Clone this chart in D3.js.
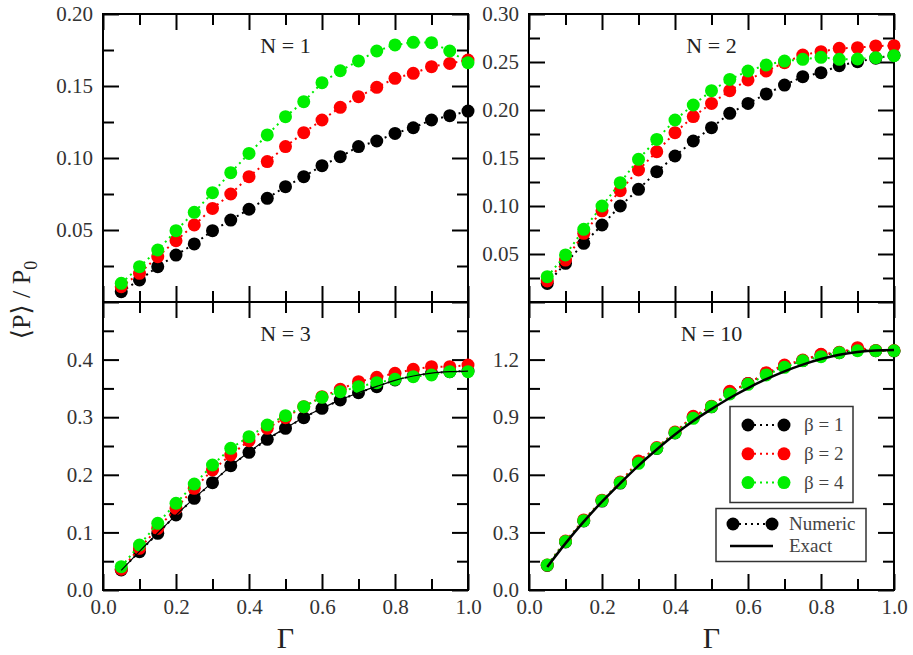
<!DOCTYPE html>
<html lang="en">
<head>
<meta charset="UTF-8">
<title>Mean power vs Gamma</title>
<script src="https://d3js.org/d3.v7.min.js"></script>
<style>
    body { margin: 0; background: #fff; }
    svg { display: block; }
    .frame { fill: none; stroke: #000; stroke-width: 2; }
    .axis path.domain { display: none; }
    .axis line { stroke: #000; stroke-width: 2; }
    .axis text { font-family: "Liberation Serif", serif; font-size: 21px; fill: #333; }
    .plabel { font-family: "Liberation Serif", serif; font-size: 22px; fill: #222; text-anchor: middle; }
    .legtext { font-family: "Liberation Serif", serif; font-size: 19px; fill: #444; }
</style>
</head>
<body>
<div id="chart"></div>
<script>
// Gamma values shared by every panel
const gammas = [0.05, 0.10, 0.15, 0.20, 0.25, 0.30, 0.35, 0.40, 0.45, 0.50,
                0.55, 0.60, 0.65, 0.70, 0.75, 0.80, 0.85, 0.90, 0.95, 1.00];

// N = 1
const n1Beta1 = [0.0072,0.0153,0.0245,0.0326,0.0403,0.0495,0.0569,0.0644,0.0720,0.0801,0.0870,0.0947,0.1009,0.1079,0.1118,0.1171,0.1210,0.1264,0.1294,0.1326];
const n1Beta2 = [0.0106,0.0199,0.0315,0.0426,0.0535,0.0650,0.0750,0.0870,0.0975,0.1079,0.1176,0.1264,0.1352,0.1426,0.1491,0.1553,0.1588,0.1634,0.1657,0.1680];
const n1Beta4 = [0.0130,0.0245,0.0361,0.0495,0.0623,0.0759,0.0898,0.1032,0.1160,0.1287,0.1391,0.1523,0.1606,0.1674,0.1743,0.1785,0.1803,0.1801,0.1743,0.1662];

// N = 2
const n2Beta1 = [0.0194,0.0403,0.0611,0.0802,0.1000,0.1174,0.1358,0.1521,0.1677,0.1816,0.1965,0.2069,0.2167,0.2260,0.2347,0.2389,0.2462,0.2503,0.2540,0.2570];
const n2Beta2 = [0.0219,0.0437,0.0715,0.0950,0.1160,0.1375,0.1566,0.1764,0.1931,0.2069,0.2201,0.2313,0.2406,0.2493,0.2573,0.2608,0.2642,0.2649,0.2667,0.2670];
const n2Beta4 = [0.0264,0.0490,0.0757,0.1000,0.1243,0.1486,0.1694,0.1896,0.2052,0.2201,0.2319,0.2406,0.2469,0.2510,0.2528,0.2549,0.2528,0.2531,0.2545,0.2566];

// N = 3
const n3Beta1 = [0.0347,0.0665,0.0984,0.1302,0.1591,0.1863,0.2159,0.2390,0.2616,0.2807,0.2992,0.3154,0.3299,0.3426,0.3530,0.3646,0.3715,0.3762,0.3791,0.3802];
const n3Beta2 = [0.0360,0.0723,0.1071,0.1418,0.1765,0.2083,0.2344,0.2593,0.2807,0.2992,0.3183,0.3356,0.3484,0.3617,0.3692,0.3762,0.3831,0.3877,0.3877,0.3906];
const n3Beta4 = [0.0405,0.0781,0.1157,0.1505,0.1840,0.2170,0.2460,0.2662,0.2865,0.3027,0.3183,0.3345,0.3443,0.3530,0.3600,0.3657,0.3704,0.3733,0.3791,0.3791];
const n3Exact = [0.0340,0.0670,0.0990,0.1300,0.1595,0.1870,0.2150,0.2395,0.2620,0.2810,0.2995,0.3155,0.3300,0.3425,0.3535,0.3640,0.3715,0.3765,0.3790,0.3800];

// N = 10
const n10Beta1 = [0.128,0.250,0.360,0.463,0.557,0.665,0.737,0.818,0.900,0.954,1.030,1.076,1.126,1.165,1.195,1.225,1.236,1.255,1.246,1.245];
const n10Beta2 = [0.130,0.255,0.365,0.468,0.562,0.672,0.742,0.823,0.905,0.957,1.035,1.075,1.132,1.172,1.198,1.228,1.238,1.262,1.248,1.247];
const n10Beta4 = [0.130,0.252,0.361,0.465,0.559,0.660,0.738,0.819,0.894,0.955,1.021,1.071,1.120,1.160,1.194,1.215,1.236,1.246,1.246,1.246];
const n10Exact = [0.120,0.243,0.356,0.460,0.556,0.648,0.732,0.810,0.880,0.942,1.000,1.052,1.098,1.139,1.174,1.203,1.225,1.240,1.248,1.250];

// tick labels
const xMajor = [0.0, 0.2, 0.4, 0.6, 0.8, 1.0];
const xMinor = [0.1, 0.3, 0.5, 0.7, 0.9];
const n1YMajor = [0.05, 0.10, 0.15, 0.20];
const n1YMinor = [0.025, 0.075, 0.125, 0.175];
const n2YMajor = [0.05, 0.10, 0.15, 0.20, 0.25, 0.30];
const n2YMinor = [0.025, 0.075, 0.125, 0.175, 0.225, 0.275];
const n3YMajor = [0.0, 0.1, 0.2, 0.3, 0.4, 0.5];
const n3YMinor = [0.05, 0.15, 0.25, 0.35, 0.45];
const n10YMajor = [0.0, 0.3, 0.6, 0.9, 1.2, 1.5];
const n10YMinor = [0.15, 0.45, 0.75, 1.05, 1.35];

const betaLabels = ["\u03B2 = 1", "\u03B2 = 2", "\u03B2 = 4"];
const colors = ["#000000", "#ff0000", "#00ee00"];

var svg = d3.select("#chart").append("svg")
    .attr("width", 913)
    .attr("height", 655);

var colX = [103, 529], rowY = [14, 302],
    pw = 365, ph = 288;

var panels = [
    {title: "N = 1", col: 0, row: 0, ymax: 0.2, yMajor: n1YMajor, yMinor: n1YMinor, fmt: ".2f", series: [n1Beta1, n1Beta2, n1Beta4], exact: null, xlab: false},
    {title: "N = 2", col: 1, row: 0, ymax: 0.3, yMajor: n2YMajor, yMinor: n2YMinor, fmt: ".2f", series: [n2Beta1, n2Beta2, n2Beta4], exact: null, xlab: false},
    {title: "N = 3", col: 0, row: 1, ymax: 0.5, yMajor: n3YMajor, yMinor: n3YMinor, fmt: ".1f", series: [n3Beta1, n3Beta2, n3Beta4], exact: n3Exact, exactWidth: 1.2, xlab: true},
    {title: "N = 10", col: 1, row: 1, ymax: 1.5, yMajor: n10YMajor, yMinor: n10YMinor, fmt: ".1f", series: [n10Beta1, n10Beta2, n10Beta4], exact: n10Exact, exactWidth: 2.5, xlab: true}
];

panels.forEach(function(p) {
    var g = svg.append("g")
        .attr("transform", "translate(" + colX[p.col] + "," + rowY[p.row] + ")");

    var x = d3.scaleLinear().domain([0, 1]).range([0, pw]),
        y = d3.scaleLinear().domain([0, p.ymax]).range([ph, 0]);

    var fy = d3.format(p.fmt), fx = d3.format(".1f");
    var top = p.ymax;

    // left axis, labels only below the top edge
    g.append("g").attr("class", "axis")
        .call(d3.axisLeft(y).tickValues(p.yMajor).tickSize(-16).tickPadding(10)
            .tickFormat(function(d) { return Math.abs(d - top) < 1e-9 && p.row == 1 ? "" : fy(d); }));
    g.append("g").attr("class", "axis")
        .call(d3.axisLeft(y).tickValues(p.yMinor).tickSize(-11).tickFormat(""));
    // right axis (mirror)
    g.append("g").attr("class", "axis").attr("transform", "translate(" + pw + ",0)")
        .call(d3.axisRight(y).tickValues(p.yMajor).tickSize(-16).tickFormat(""));
    g.append("g").attr("class", "axis").attr("transform", "translate(" + pw + ",0)")
        .call(d3.axisRight(y).tickValues(p.yMinor).tickSize(-11).tickFormat(""));
    // top axis (mirror)
    g.append("g").attr("class", "axis")
        .call(d3.axisTop(x).tickValues(xMajor).tickSize(-16).tickFormat(""));
    g.append("g").attr("class", "axis")
        .call(d3.axisTop(x).tickValues(xMinor).tickSize(-11).tickFormat(""));
    // bottom axis
    g.append("g").attr("class", "axis").attr("transform", "translate(0," + ph + ")")
        .call(d3.axisBottom(x).tickValues(xMajor).tickSize(-16).tickPadding(9)
            .tickFormat(p.xlab ? fx : ""));
    g.append("g").attr("class", "axis").attr("transform", "translate(0," + ph + ")")
        .call(d3.axisBottom(x).tickValues(xMinor).tickSize(-11).tickFormat(""));

    g.append("rect").attr("class", "frame")
        .attr("width", pw).attr("height", ph);

    var line = d3.line()
        .x(function(d, i) { return x(gammas[i]); })
        .y(function(d) { return y(d); });

    p.series.forEach(function(vals, k) {
        g.append("path")
            .datum(vals)
            .attr("d", line)
            .attr("fill", "none")
            .attr("stroke", colors[k])
            .attr("stroke-width", 2)
            .attr("stroke-dasharray", "2,4");
        g.selectAll(".pt" + k)
            .data(vals)
            .enter().append("circle")
            .attr("class", "pt" + k)
            .attr("cx", function(d, i) { return x(gammas[i]); })
            .attr("cy", function(d) { return y(d); })
            .attr("r", 6.5)
            .attr("fill", colors[k]);
    });

    if (p.exact) {
        g.append("path")
            .datum(p.exact)
            .attr("d", line.curve(d3.curveMonotoneX))
            .attr("fill", "none")
            .attr("stroke", "#000")
            .attr("stroke-width", p.exactWidth);
    }

    g.append("text")
        .attr("class", "plabel")
        .attr("x", pw / 2)
        .attr("y", 39)
        .text(p.title);
});

// legends in the N = 10 panel
var leg = svg.append("g");
leg.append("rect")
    .attr("x", 730).attr("y", 406.5).attr("width", 123).attr("height", 96)
    .attr("fill", "#fff").attr("stroke", "#333").attr("stroke-width", 1.5);
betaLabels.forEach(function(lab, k) {
    var yy = 425 + k * 28.8;
    leg.append("line")
        .attr("x1", 748).attr("x2", 784).attr("y1", yy).attr("y2", yy)
        .attr("stroke", colors[k]).attr("stroke-width", 2).attr("stroke-dasharray", "2,4");
    leg.append("circle").attr("cx", 748).attr("cy", yy).attr("r", 6.5).attr("fill", colors[k]);
    leg.append("circle").attr("cx", 784).attr("cy", yy).attr("r", 6.5).attr("fill", colors[k]);
    leg.append("text").attr("class", "legtext")
        .attr("x", 804).attr("y", yy + 6).text(lab);
});

leg.append("rect")
    .attr("x", 716).attr("y", 508.5).attr("width", 150).attr("height", 53)
    .attr("fill", "#fff").attr("stroke", "#333").attr("stroke-width", 1.5);
leg.append("line")
    .attr("x1", 733).attr("x2", 772).attr("y1", 524).attr("y2", 524)
    .attr("stroke", "#000").attr("stroke-width", 2).attr("stroke-dasharray", "2,4");
leg.append("circle").attr("cx", 733).attr("cy", 524).attr("r", 6.5).attr("fill", "#000");
leg.append("circle").attr("cx", 772).attr("cy", 524).attr("r", 6.5).attr("fill", "#000");
leg.append("text").attr("class", "legtext").attr("x", 789).attr("y", 530).text("Numeric");
leg.append("line")
    .attr("x1", 730).attr("x2", 773).attr("y1", 546).attr("y2", 546)
    .attr("stroke", "#000").attr("stroke-width", 2.5);
leg.append("text").attr("class", "legtext").attr("x", 789).attr("y", 552).text("Exact");

// axis titles
[285.5, 711.5].forEach(function(cx) {
    svg.append("text")
        .attr("x", cx).attr("y", 648)
        .attr("text-anchor", "middle")
        .style("font-family", "'Liberation Serif', serif")
        .style("font-size", "30px")
        .style("fill", "#222")
        .text("\u0393");
});

var yt = svg.append("text")
    .attr("transform", "translate(30,300) rotate(-90)")
    .attr("text-anchor", "middle")
    .style("font-family", "'Liberation Serif', 'DejaVu Serif', serif")
    .style("font-size", "26px")
    .style("fill", "#222");
yt.append("tspan").text("\u27E8P\u27E9 / P");
yt.append("tspan").attr("dy", 7).style("font-size", "18px").text("0");
</script>
</body>
</html>
